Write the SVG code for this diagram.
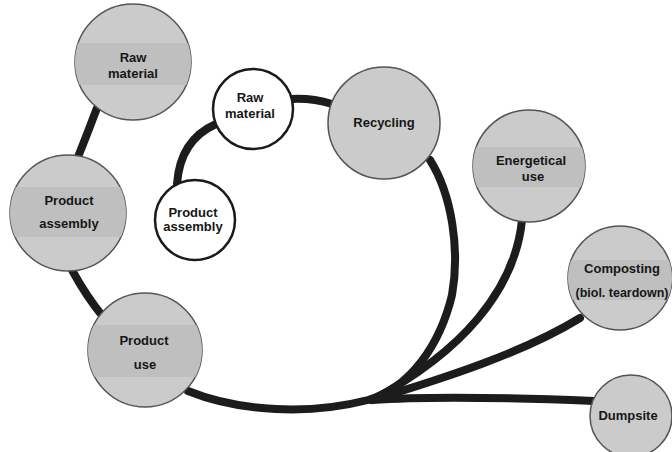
<svg xmlns="http://www.w3.org/2000/svg" width="672" height="452" viewBox="0 0 672 452">
<style>
.bg{fill:#ffffff}
.conn path{fill:none;stroke:#1c1c1c;stroke-width:8;stroke-linecap:round}
.gray{fill:#cbcbcb;stroke:#555555;stroke-width:1.5}
.white{fill:#ffffff;stroke:#1a1a1a;stroke-width:2.5}
.lbl{fill:#bfbfbf}
text{font-family:"Liberation Sans",Arial,sans-serif;font-weight:bold;font-size:13px;fill:#161616;text-anchor:middle}
</style>
<defs>
<clipPath id="c-raw1"><circle cx="133" cy="62" r="58"/></clipPath>
<clipPath id="c-asm1"><circle cx="68" cy="213" r="58"/></clipPath>
<clipPath id="c-use"><circle cx="145" cy="350" r="57"/></clipPath>
<clipPath id="c-energy"><circle cx="529" cy="166" r="56"/></clipPath>
<clipPath id="c-comp"><circle cx="620" cy="278" r="52"/></clipPath>
</defs>
<rect class="bg" x="0" y="0" width="672" height="452"/>
<g id="connectors" class="conn">
<path d="M97 108 Q88 132 78 157"/>
<path d="M72 270 Q86 296 104 318"/>
<path d="M188 391 C240 412 310 415 368 400 C410 388 440 345 452 295 C460 250 452 195 430 160"/>
<path d="M216 124 Q180 140 177 184"/>
<path d="M292 99 Q312 98 332 104"/>
<path d="M522 220 C515 290 462 352 372 400"/>
<path d="M580 318 C525 352 445 378 372 400"/>
<path d="M372 400 C430 396 520 398 594 401"/>
</g>
<g id="raw-material-1">
<circle class="gray" cx="133" cy="62" r="58"/>
<rect class="lbl" x="75" y="43" width="116" height="42" clip-path="url(#c-raw1)"/>
<text x="133" y="62">Raw</text>
<text x="133" y="78">material</text>
</g>
<g id="product-assembly-1">
<circle class="gray" cx="68" cy="213" r="58"/>
<rect class="lbl" x="10" y="187" width="116" height="50" clip-path="url(#c-asm1)"/>
<text x="69" y="205">Product</text>
<text x="69" y="228">assembly</text>
</g>
<g id="product-use">
<circle class="gray" cx="145" cy="350" r="57"/>
<rect class="lbl" x="88" y="325" width="114" height="52" clip-path="url(#c-use)"/>
<text x="144" y="345">Product</text>
<text x="145" y="369">use</text>
</g>
<g id="recycling">
<circle class="gray" cx="384" cy="123" r="56"/>
<text x="384" y="127">Recycling</text>
</g>
<g id="raw-material-2">
<circle class="white" cx="253" cy="109" r="40"/>
<text x="250" y="102">Raw</text>
<text x="250" y="118">material</text>
</g>
<g id="product-assembly-2">
<circle class="white" cx="195" cy="220" r="40"/>
<text x="193" y="217">Product</text>
<text x="193" y="231">assembly</text>
</g>
<g id="energetical-use">
<circle class="gray" cx="529" cy="166" r="56"/>
<rect class="lbl" x="472" y="147" width="114" height="40" clip-path="url(#c-energy)"/>
<text x="531" y="165">Energetical</text>
<text x="533" y="181">use</text>
</g>
<g id="composting">
<circle class="gray" cx="620" cy="278" r="52"/>
<rect class="lbl" x="566" y="260" width="108" height="40" clip-path="url(#c-comp)"/>
<text x="622" y="273">Composting</text>
<text x="622" y="297" style="font-size:12.5px">(biol. teardown)</text>
</g>
<g id="dumpsite">
<circle class="gray" cx="631" cy="416" r="41"/>
<text x="628" y="420">Dumpsite</text>
</g>
</svg>
